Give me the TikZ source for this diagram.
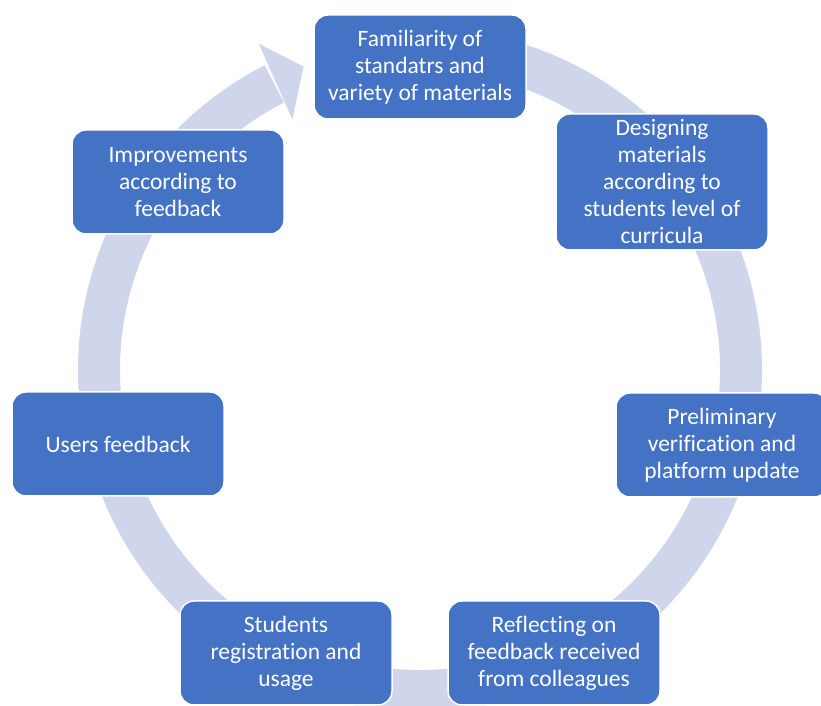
\documentclass[tikz,border=0pt]{standalone}
\usepackage{fontspec}
\setmainfont{Carlito}[Ligatures=NoCommon]
\usetikzlibrary{positioning, calc}
\definecolor{bluFase}{HTML}{4472C4}
\definecolor{bluAnello}{HTML}{CFD5EA}

\begin{document}
\begin{tikzpicture}[x=1pt, y=1pt,
	fase/.style={rectangle, rounded corners=14pt, draw=white, line width=1.5pt, fill=bluFase, text=white, align=center, minimum width=212pt, minimum height=104pt, inner sep=4pt, font=\fontsize{23.5}{27}\selectfont},
	anello/.style={draw=bluAnello, line width=42pt}]
	\useasboundingbox (0,0) rectangle (821,706);
	\clip (0,0) rectangle (821,706);
	
	% Centro del ciclo
	\coordinate (centro) at (420,336);
	
	% Anello con freccia
	\draw[anello] ($(centro)+(95:321)$) arc[start angle=95, end angle=-243, radius=321];
	\fill[bluAnello] ($(centro)+(117:281)$) -- ($(centro)+(116.3:364)$) -- ($(centro)+(111:325)$) -- cycle;
	
	% Fasi
	\node[fase] (familiarita) at (420,639) {Familiarity of\\standatrs and\\variety of materials};
	\node[fase, minimum height=136pt] (progettazione) at (662,524) {Designing\\materials\\according to\\students level of\\curricula};
	\node[fase] (verifica) at (722,261) {Preliminary\\verification and\\platform update};
	\node[fase] (riflessione) at (554,53) {Reflecting on\\feedback received\\from colleagues};
	\node[fase] (studenti) at (286,53) {Students\\registration and\\usage};
	\node[fase] (utenti) at (118,262) {Users feedback};
	\node[fase] (miglioramenti) at (178,524) {Improvements\\according to\\feedback};
\end{tikzpicture}
\end{document}
